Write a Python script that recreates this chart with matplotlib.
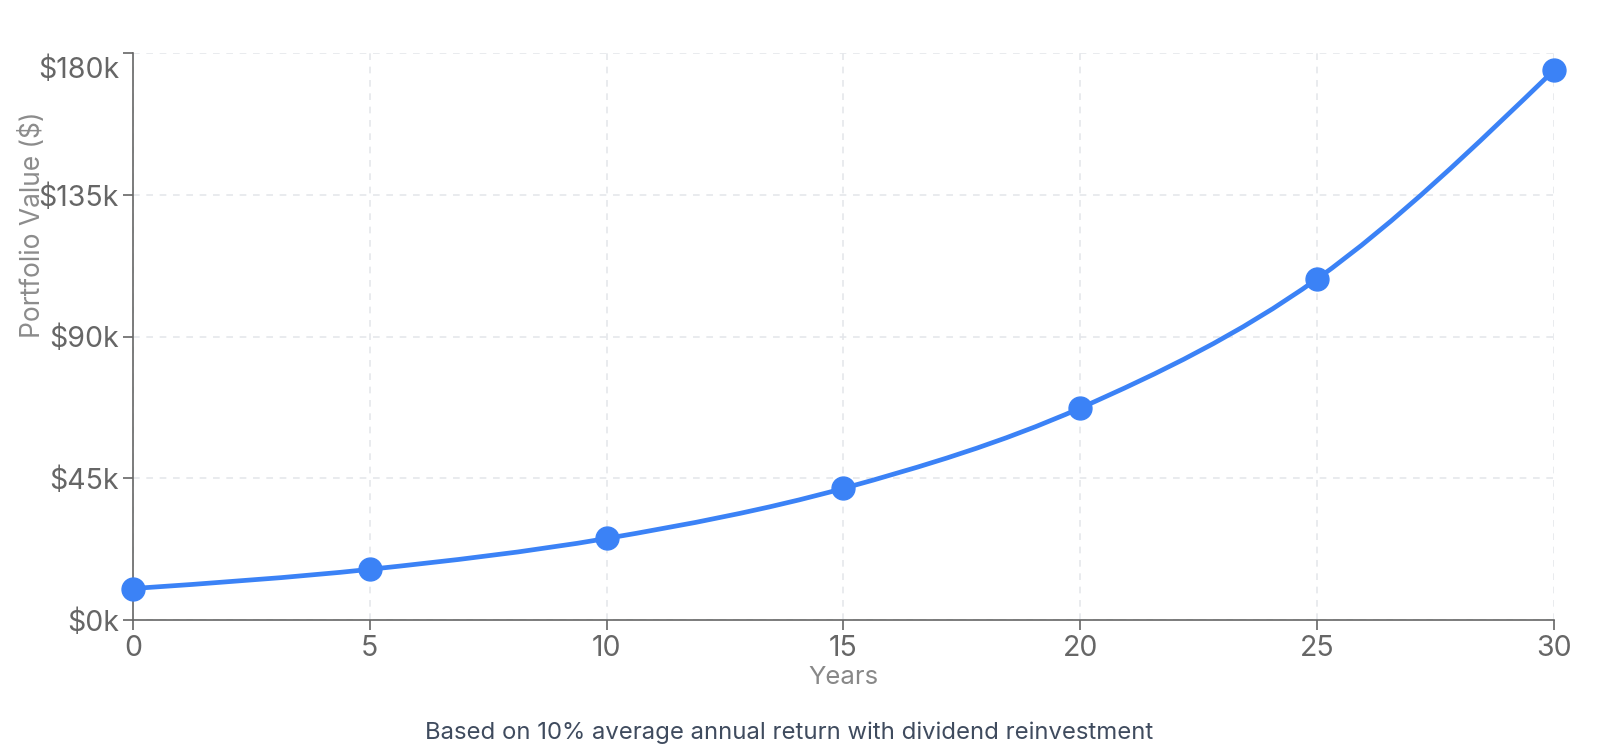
import numpy as np
import matplotlib
matplotlib.use("Agg")
from matplotlib import pyplot as plt
from matplotlib.path import Path
from matplotlib.patches import PathPatch
from matplotlib.ticker import FuncFormatter
from matplotlib.transforms import ScaledTranslation

plt.rcParams['font.family'] = ['Inter', 'DejaVu Sans']

# data
years = [0, 5, 10, 15, 20, 25, 30]
portfolio = [10000, 16100, 25900, 41800, 67300, 108300, 174500]
y_ticks = [0, 45000, 90000, 135000, 180000]
x_ticks = [0, 5, 10, 15, 20, 25, 30]

BLUE = '#3b82f6'
TICK = '#666666'
GRID = '#e5e7eb'


def monotone_path(x, y):
    # d3 curveMonotoneX as cubic bezier segments
    x = np.asarray(x, float)
    y = np.asarray(y, float)
    n = len(x)
    h = np.diff(x)
    s = np.diff(y) / h
    t = np.zeros(n)
    for i in range(1, n - 1):
        p = (s[i - 1] * h[i] + s[i] * h[i - 1]) / (h[i - 1] + h[i])
        t[i] = (np.sign(s[i - 1]) + np.sign(s[i])) * min(abs(s[i - 1]), abs(s[i]), 0.5 * abs(p))
    t[0] = (3 * s[0] - t[1]) / 2
    t[-1] = (3 * s[-1] - t[-2]) / 2
    verts = [(x[0], y[0])]
    codes = [Path.MOVETO]
    for i in range(n - 1):
        dx = (x[i + 1] - x[i]) / 3
        verts += [(x[i] + dx, y[i] + dx * t[i]),
                  (x[i + 1] - dx, y[i + 1] - dx * t[i + 1]),
                  (x[i + 1], y[i + 1])]
        codes += [Path.CURVE4] * 3
    return Path(verts, codes)


fig = plt.figure(figsize=(16, 7.53), dpi=100)
ax = fig.add_axes([0.0831, 0.1766, 0.8881, 0.753])

ax.set_xlim(0, 30)
ax.set_ylim(0, 180000)
ax.set_xticks(x_ticks)
ax.set_yticks(y_ticks)
ax.yaxis.set_major_formatter(FuncFormatter(lambda v, p: '$%dk' % round(v / 1000)))

ax.grid(True, color=GRID, linestyle=(0, (4, 4)), linewidth=1.2)
ax.set_axisbelow(True)
for side in ['top', 'right']:
    ax.spines[side].set_visible(False)
for side in ['left', 'bottom']:
    ax.spines[side].set_color(TICK)
    ax.spines[side].set_linewidth(1.2)
ax.tick_params(colors=TICK, labelsize=20.5, length=7, width=1.2, pad=3)
ax.tick_params(axis='x', pad=4)

# top y label sits a bit below its tick in the original
top_lab = ax.yaxis.get_major_ticks()[-1].label1
top_lab.set_transform(top_lab.get_transform() + ScaledTranslation(0, -0.14, fig.dpi_scale_trans))

curve = PathPatch(monotone_path(years, portfolio), facecolor='none', edgecolor=BLUE,
                  linewidth=3.4, capstyle='round', joinstyle='round', clip_on=False)
ax.add_patch(curve)
ax.plot(years, portfolio, 'o', color=BLUE, markersize=16.5, clip_on=False, zorder=3)

ax.set_xlabel('Years', color='#888888', fontsize=18.5, labelpad=2.5)
ax.set_ylabel('Portfolio Value ($)', color='#8c8c8c', fontsize=19)
ax.yaxis.label.set_va('center')
ax.yaxis.set_label_coords(-0.0704, 0.697)

fig.text(0.493, 0.0266, 'Based on 10% average annual return with dividend reinvestment',
         ha='center', va='center', color='#3f4b5e', fontsize=17.2)

fig.savefig('out.png', dpi=100, facecolor='white')
